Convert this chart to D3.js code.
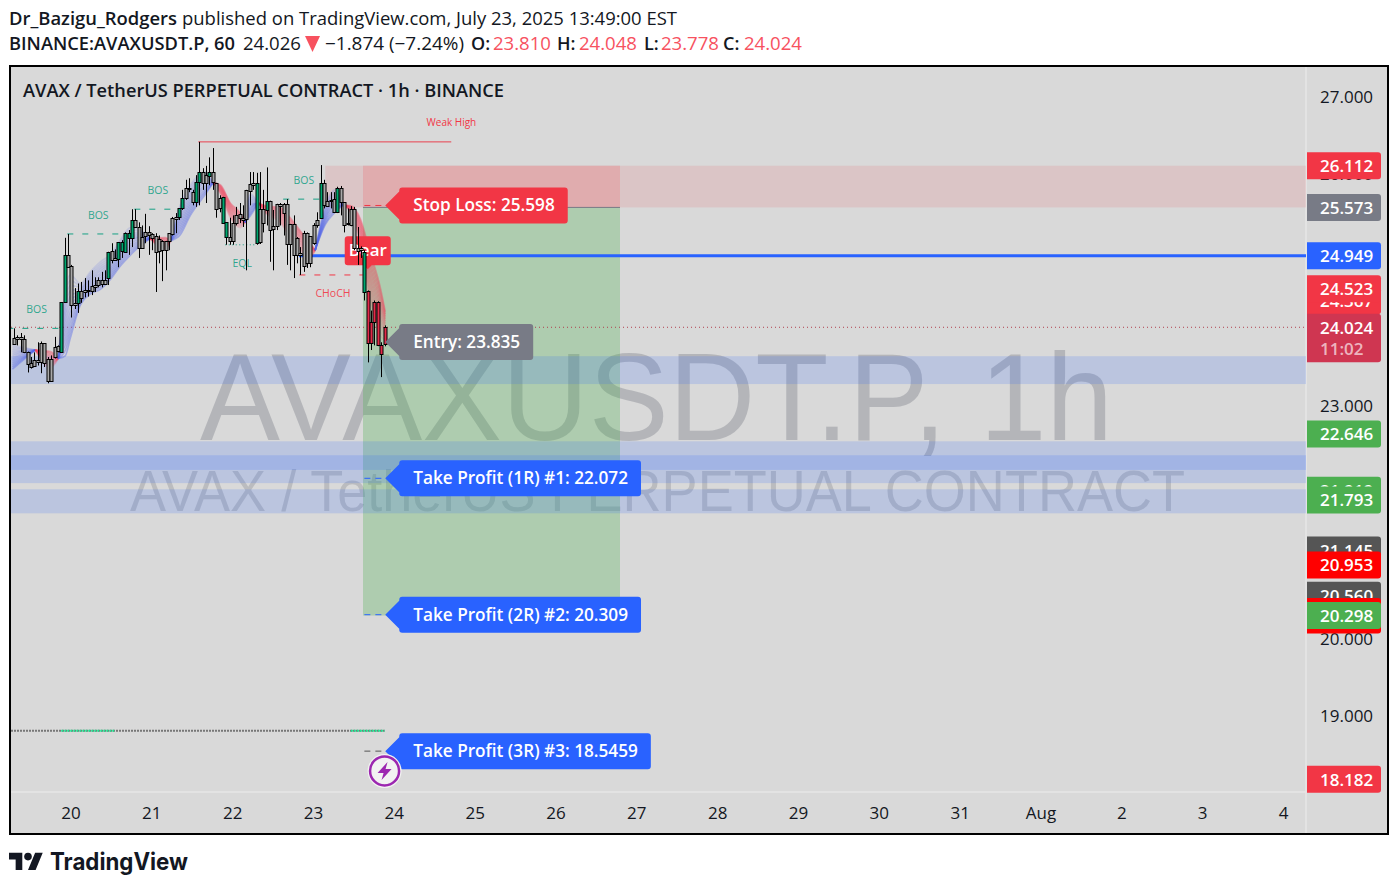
<!DOCTYPE html>
<html>
<head>
<meta charset="utf-8">
<script src="https://cdn.jsdelivr.net/npm/d3@7"></script>
<style>
  html, body { margin: 0; padding: 0; background: #fff; }
  svg { display: block; }
  text { font-family: "Open Sans", sans-serif; }
</style>
</head>
<body>
<div id="chart"></div>
<script>
// hourly candles
const opens = [
  23.88,23.90,23.90,23.87,23.70,23.56,23.60,23.60,23.82,23.82,
  23.62,23.62,23.77,23.78,23.71,24.35,24.96,24.81,24.34,24.34,
  24.49,24.50,24.50,24.56,24.57,24.63,24.63,24.63,24.67,25.01,
  24.92,24.90,25.00,25.00,25.18,25.18,25.41,25.32,25.19,25.25,
  25.25,25.23,25.21,25.16,25.14,25.14,25.24,25.44,25.45,25.44,
  25.56,25.82,25.82,25.77,25.64,25.90,26.03,25.99,25.98,26.03,
  25.89,25.69,25.38,25.19,25.19,25.37,25.47,25.49,25.44,25.80,
  25.87,25.89,25.12,25.55,25.55,25.55,25.66,25.33,25.62,25.62,
  25.62,25.62,25.36,25.36,25.18,24.98,25.24,25.24,25.20,25.34,
  25.41,25.44,25.89,25.66,25.67,25.68,25.51,25.82,25.64,25.37,
  25.55,25.55,25.05,25.05,24.48,24.49,24.09,24.35,24.35,23.80,23.810
];
const highs = [
  24.01,23.92,23.95,23.92,23.71,23.64,23.70,23.83,23.84,23.82,
  23.64,23.66,23.90,23.79,24.35,25.18,25.23,24.83,24.53,24.59,
  24.61,24.66,24.63,24.76,24.67,24.67,24.74,24.76,25.00,25.11,
  25.03,25.12,25.15,25.25,25.28,25.55,25.55,25.38,25.34,25.49,
  25.33,25.24,25.24,25.21,25.15,25.14,25.24,25.45,25.50,25.56,
  25.80,25.93,25.95,25.80,25.99,26.42,26.08,26.11,26.22,26.34,
  25.89,25.73,25.71,25.38,25.44,25.47,25.58,25.63,25.60,25.80,
  26.03,26.03,26.02,26.03,25.80,26.09,25.66,25.54,25.62,25.63,
  25.63,25.68,25.36,25.47,25.19,25.06,25.27,25.25,25.20,25.37,
  25.51,26.12,25.93,25.77,25.77,25.77,25.84,25.85,25.64,25.56,
  25.59,25.58,25.32,25.07,25.02,24.50,24.24,24.37,24.36,23.83,24.048
];
const lows = [
  23.80,23.79,23.70,23.69,23.44,23.49,23.51,23.53,23.43,23.51,
  23.30,23.33,23.62,23.70,23.71,24.35,24.81,24.15,24.26,24.21,
  24.34,24.41,24.42,24.44,24.48,24.54,24.54,24.57,24.57,24.85,
  24.90,24.80,24.92,25.00,24.96,25.06,25.31,24.92,25.05,25.11,
  24.96,25.02,24.48,24.85,24.62,24.76,25.02,25.21,25.24,25.41,
  25.54,25.67,25.77,25.60,25.58,25.60,25.80,25.63,25.86,25.80,
  25.44,25.51,25.36,25.09,25.09,25.09,25.34,25.37,25.32,24.76,
  25.60,25.80,25.09,25.10,25.25,25.34,24.87,24.76,25.28,25.34,
  25.21,24.83,24.76,24.66,24.85,24.70,24.74,24.79,24.80,25.09,
  25.31,25.44,25.56,25.58,25.56,25.50,25.50,25.47,25.25,25.34,
  25.33,25.02,24.83,24.92,24.37,23.57,23.73,23.79,23.78,23.38,23.778
];
const closes = [
  23.80,23.88,23.87,23.70,23.55,23.51,23.52,23.57,23.58,23.56,
  23.33,23.33,23.64,23.71,24.35,24.96,24.81,24.30,24.31,24.49,
  24.40,24.48,24.49,24.49,24.54,24.57,24.58,24.58,25.00,24.90,
  24.90,25.12,25.12,25.24,25.24,25.41,25.32,25.05,25.05,25.20,
  25.21,25.18,25.00,25.01,25.02,25.02,25.14,25.23,25.42,25.56,
  25.69,25.69,25.81,25.64,25.90,26.03,25.89,25.89,26.03,25.90,
  25.56,25.56,25.71,25.38,25.14,25.14,25.37,25.44,25.42,25.42,
  25.78,25.87,25.89,25.12,25.37,25.66,25.29,25.29,25.33,25.59,
  25.50,25.10,25.10,24.96,24.96,24.96,24.81,24.85,24.85,25.11,
  25.34,25.89,25.60,25.60,25.66,25.51,25.82,25.64,25.34,25.36,
  25.34,25.05,25.01,25.02,25.00,23.82,23.82,24.09,23.80,23.68,24.024
];

// moving average ribbon, sampled at the bars where its shape changes
const ribbonBars = [-0.5,3.4,6.3,10.8,13.1,15.2,16.7,19.7,22.6,25.6,28.6,31.5,34.5,37.5,40.4,44.9,46.4,49.3,52.3,56.8,59.1,61.2,64.2,67.1,68.6,70.1,72.5,74.6,79,82,85,87.9,89.4,92.4,95.3,97.7,99.8,102.8,105.7,108.7,110.2];
const ribbonFast = [23.79,23.76,23.73,23.50,23.62,24.50,24.70,24.59,24.74,24.87,24.96,25.15,25.31,25.28,25.17,25.02,25.14,25.60,25.86,26.03,25.89,25.75,25.44,25.31,25.38,25.75,25.63,25.50,25.38,25.18,25.02,24.92,25.02,25.60,25.80,25.60,25.51,25.09,24.37,23.92,23.86];
const ribbonSlow = [23.47,23.62,23.73,23.72,23.62,23.62,23.85,24.30,24.44,24.50,24.63,24.80,24.94,25.07,25.17,25.19,25.14,25.20,25.45,25.73,25.89,25.87,25.64,25.51,25.38,25.45,25.63,25.60,25.58,25.45,25.28,25.12,25.02,25.34,25.50,25.60,25.60,25.44,25.02,24.57,24.24];

// market structure
const structureLabels = ["BOS","BOS","BOS","BOS","EQL","CHoCH"];
const structurePrices = [24.01,25.23,25.55,25.68,25.09,24.70];
const structureFrom = [-2,15.8,35.7,79.9,62.7,84.7];
const structureTo = [14.2,33,48.5,91,71.6,103.5];

const weakHighPrice = 26.42, weakHighFrom = 54.7, weakHighTo = 129.8;

// zones
const zoneTop = [26.112,23.65,22.55,22.37,21.93];
const zoneBottom = [25.573,23.29,22.18,22.01,21.62];
const zoneFrom = [92.4,-1,-1,-1,-1];

const tradeFrom = 103.6, tradeTo = 179.9;
const tradeStop = 26.112, tradeEntry = 25.573, tradeTarget = 20.298;

const levelPrice = 24.949, levelFrom = 84.6;
const lastPrice = 24.024;
const bottomLevel = 18.81;

const calloutLabels = ["Stop Loss: 25.598","Entry: 23.835","Take Profit (1R) #1: 22.072","Take Profit (2R) #2: 20.309","Take Profit (3R) #3: 18.5459"];
const calloutPrices = [25.598,23.835,22.072,20.309,18.5459];
const calloutKinds = ["stop","entry","target","target","target"];

// price axis
const priceTicks = [27,26,25,24,23,22,21,20,19];
const tagPrices = [26.112,25.573,24.949,24.367,24.523,22.646,21.919,21.793,21.145,20.953,20.560,20.35,20.24,20.298,18.182];
const tagLabels = ["26.112","25.573","24.949","24.367","24.523","22.646","21.919","21.793","21.145","20.953","20.560","","","20.298","18.182"];
const tagKinds = ["stop","entry","target","stop","stop","green","green","green","dark","pure","dark","pure","pure","green","stop"];

// time axis
const dayTicks = ["2025-07-20","2025-07-21","2025-07-22","2025-07-23","2025-07-24","2025-07-25","2025-07-26","2025-07-27","2025-07-28","2025-07-29","2025-07-30","2025-07-31","2025-08-01","2025-08-02","2025-08-03","2025-08-04"];
const dayLabels = ["20","21","22","23","24","25","26","27","28","29","30","31","Aug","2","3","4"];

const W = 1398, H = 889;
const plot = { left: 11, right: 1306, top: 67, bottom: 792, outerRight: 1388, outerBottom: 834 };
const colors = { stop: "#f23645", entry: "#787b86", target: "#2962ff", green: "#4caf50", dark: "#555555", pure: "#ff0000" };
const teal = "#16a085", red = "#f23645";

const svg = d3.select("#chart").append("svg").attr("width", W).attr("height", H);

const x = d3.scaleUtc()
  .domain([new Date("2025-07-20"), new Date("2025-08-04")])
  .range([70.5, 1283]);
const y = d3.scaleLinear().domain([27, 19]).range([97, 716]);

const firstBar = Date.UTC(2025, 6, 19, 7, 15);
const barX = i => x(new Date(firstBar + i * 3600e3));

svg.append("defs").append("clipPath").attr("id", "plotClip")
  .append("rect")
  .attr("x", plot.left).attr("y", plot.top)
  .attr("width", plot.right - plot.left).attr("height", plot.bottom - plot.top);

// header
const head = svg.append("g").attr("fill", "#131722").attr("font-size", 18);
head.append("text").attr("x", 9).attr("y", 25).attr("font-weight", 600).attr("textLength", 168).attr("lengthAdjust", "spacingAndGlyphs").text("Dr_Bazigu_Rodgers");
head.append("text").attr("x", 182).attr("y", 25).attr("textLength", 495).attr("lengthAdjust", "spacingAndGlyphs").text("published on TradingView.com, July 23, 2025 13:49:00 EST");
head.append("text").attr("x", 9).attr("y", 50).attr("font-weight", 600).attr("textLength", 226).attr("lengthAdjust", "spacingAndGlyphs").text("BINANCE:AVAXUSDT.P, 60");
head.append("text").attr("x", 243).attr("y", 50).attr("textLength", 58).attr("lengthAdjust", "spacingAndGlyphs").text("24.026");
head.append("text").attr("x", 325).attr("y", 50).attr("textLength", 139).attr("lengthAdjust", "spacingAndGlyphs").text("−1.874 (−7.24%)");
head.append("path").attr("d", "M305,36H320L312.5,52Z").attr("fill", "#f7525f");
const ohlcNames = ["O:","H:","L:","C:"];
const ohlcValues = ["23.810","24.048","23.778","24.024"];
const ohlcNameX = [471,557,644,723], ohlcValueX = [493,579,661,744];
ohlcNames.forEach((n, i) => {
  head.append("text").attr("x", ohlcNameX[i]).attr("y", 50).attr("font-weight", 600).text(n);
  head.append("text").attr("x", ohlcValueX[i]).attr("y", 50).attr("fill", "#f7525f").attr("textLength", 58).attr("lengthAdjust", "spacingAndGlyphs").text(ohlcValues[i]);
});

// panel
svg.append("rect").attr("x", 10).attr("y", 66).attr("width", 1378).attr("height", 768)
  .attr("fill", "#d9d9d9").attr("stroke", "#000").attr("stroke-width", 2);
svg.append("line").attr("x1", plot.right).attr("x2", plot.right).attr("y1", 67).attr("y2", plot.outerBottom - 1).attr("stroke", "#e6e6e6").attr("stroke-width", 1.5);
svg.append("line").attr("x1", 11).attr("x2", plot.right).attr("y1", plot.bottom).attr("y2", plot.bottom).attr("stroke", "#e6e6e6").attr("stroke-width", 1.5);

// watermark
svg.append("text").attr("x", 200).attr("y", 440).attr("font-size", 125)
  .attr("textLength", 913).attr("lengthAdjust", "spacingAndGlyphs")
  .attr("fill", "rgba(120,123,134,0.38)").style("font-family", "Liberation Sans").text("AVAXUSDT.P, 1h");
svg.append("text").attr("x", 130).attr("y", 511).attr("font-size", 57)
  .attr("textLength", 1055).attr("lengthAdjust", "spacingAndGlyphs")
  .attr("fill", "rgba(120,123,134,0.3)").style("font-family", "Liberation Sans").text("AVAX / TetherUS PERPETUAL CONTRACT");

svg.append("text").attr("x", 23).attr("y", 97).attr("font-size", 18).attr("font-weight", 600).attr("fill", "#131722")
  .attr("textLength", 481).attr("lengthAdjust", "spacingAndGlyphs")
  .text("AVAX / TetherUS PERPETUAL CONTRACT · 1h · BINANCE");

const chart = svg.append("g").attr("clip-path", "url(#plotClip)");

// trade boxes and zones
chart.append("rect").attr("x", barX(tradeFrom)).attr("width", barX(tradeTo) - barX(tradeFrom))
  .attr("y", y(tradeEntry)).attr("height", y(tradeTarget) - y(tradeEntry)).attr("fill", "rgba(76,175,80,0.3)");
chart.append("rect").attr("x", barX(tradeFrom)).attr("width", barX(tradeTo) - barX(tradeFrom))
  .attr("y", y(tradeStop)).attr("height", y(tradeEntry) - y(tradeStop)).attr("fill", "rgba(242,54,69,0.18)");
chart.selectAll(".zone").data(zoneTop).join("rect").attr("class", "zone")
  .attr("x", (d, i) => barX(zoneFrom[i]))
  .attr("width", (d, i) => plot.right - barX(zoneFrom[i]))
  .attr("y", d => y(d))
  .attr("height", (d, i) => y(zoneBottom[i]) - y(d))
  .attr("fill", (d, i) => i === 0 ? "rgba(242,54,69,0.12)" : "rgba(41,98,255,0.17)");

chart.append("line").attr("x1", barX(tradeFrom)).attr("x2", barX(tradeTo)).attr("y1", y(tradeEntry)).attr("y2", y(tradeEntry)).attr("stroke", "#787b86").attr("stroke-width", 1);
chart.append("line").attr("x1", barX(levelFrom)).attr("x2", plot.right).attr("y1", y(levelPrice)).attr("y2", y(levelPrice)).attr("stroke", "#2962ff").attr("stroke-width", 3);
chart.append("line").attr("x1", plot.left).attr("x2", plot.right).attr("y1", y(lastPrice)).attr("y2", y(lastPrice))
  .attr("stroke", "#b0404f").attr("stroke-dasharray", "1,3");

// ribbon, one piece per stretch between crossings
const crossings = ribbonBars.map((b, i) => i).filter(i => ribbonFast[i] === ribbonSlow[i]);
const cuts = [0, ...crossings, ribbonBars.length - 1];
const strands = d3.range(0, 1.001, 0.08);
const ribbon = chart.append("g");
d3.pairs(cuts).forEach(([a, b]) => {
  const idx = d3.range(a, b + 1);
  const mid = idx[Math.floor(idx.length / 2)];
  const bull = ribbonFast[mid] > ribbonSlow[mid];
  const col = bull ? "#4f63e8" : "#f0405a";
  strands.forEach(t => {
    const line = d3.line()
      .x(i => barX(ribbonBars[i]))
      .y(i => y(ribbonFast[i] + (ribbonSlow[i] - ribbonFast[i]) * t))
      .curve(d3.curveMonotoneX);
    ribbon.append("path").datum(idx).attr("d", line).attr("fill", "none")
      .attr("stroke", col).attr("stroke-width", 1.6).attr("stroke-opacity", 0.16 + 0.26 * t);
  });
});

// market structure lines
structureLabels.forEach((label, i) => {
  const isChoch = label === "CHoCH";
  const col = isChoch ? red : teal;
  const x1 = barX(structureFrom[i]), x2 = barX(structureTo[i]), py = y(structurePrices[i]);
  chart.append("line").attr("x1", x1).attr("x2", x2).attr("y1", py).attr("y2", py)
    .attr("stroke", col).attr("stroke-width", 1)
    .attr("stroke-dasharray", label === "EQL" ? "1,2.5" : "6,9");
  chart.append("text").attr("x", (x1 + x2) / 2 + 2).attr("y", py + (label === "BOS" ? -15 : 22))
    .attr("text-anchor", "middle").attr("font-size", 10.5).attr("fill", col).attr("fill-opacity", 0.9).text(label);
});

chart.append("line").attr("x1", barX(weakHighFrom)).attr("x2", barX(weakHighTo)).attr("y1", y(weakHighPrice)).attr("y2", y(weakHighPrice))
  .attr("stroke", "#e8404f").attr("stroke-width", 1);
chart.append("text").attr("x", barX(weakHighTo) + 25).attr("y", y(weakHighPrice) - 16).attr("text-anchor", "end")
  .attr("font-size", 10).attr("fill", red).text("Weak High");

// bottom dotted level
chart.append("line").attr("x1", plot.left).attr("x2", barX(110)).attr("y1", y(bottomLevel)).attr("y2", y(bottomLevel))
  .attr("stroke", "#777").attr("stroke-width", 2).attr("stroke-dasharray", "2,1");
chart.append("line").attr("x1", barX(14)).attr("x2", barX(30)).attr("y1", y(bottomLevel)).attr("y2", y(bottomLevel))
  .attr("stroke", "#20e090").attr("stroke-width", 2).attr("stroke-dasharray", "2,1");
chart.append("line").attr("x1", barX(100)).attr("x2", barX(110)).attr("y1", y(bottomLevel)).attr("y2", y(bottomLevel))
  .attr("stroke", "#20e090").attr("stroke-width", 2).attr("stroke-dasharray", "2,1");

// target dashes next to the callouts
calloutPrices.forEach((p, i) => {
  chart.append("line").attr("x1", barX(104)).attr("x2", barX(110.5)).attr("y1", y(p)).attr("y2", y(p))
    .attr("stroke", calloutKinds[i] === "entry" ? "none" : i === 0 ? red : i === 4 ? "#555" : "#2962ff")
    .attr("stroke-width", 1).attr("stroke-dasharray", "6,5");
});

// bear signal
const bearBar = 105, bearPrice = 24.98;
const bear = chart.append("g");
const bx = barX(bearBar), by = y(bearPrice);
bear.append("path").attr("fill", red).attr("d", `M${bx - 23},${by - 14}a3,3 0 0 1 3,-3h40a3,3 0 0 1 3,3v23a3,3 0 0 1 -3,3h-16l-4,4l-4,-4h-16a3,3 0 0 1 -3,-3z`);
bear.append("text").attr("x", bx).attr("y", by + 3).attr("text-anchor", "middle").attr("font-size", 17).attr("font-weight", 600).attr("fill", "#fff").text("Bear");

// candles
const candles = chart.append("g");
const redFrom = 105;
opens.forEach((o, i) => {
  const cx = Math.round(barX(i));
  const c = closes[i];
  const top = y(Math.max(o, c)), bot = y(Math.min(o, c));
  candles.append("line").attr("x1", cx + 0.5).attr("x2", cx + 0.5).attr("y1", y(highs[i])).attr("y2", y(lows[i])).attr("stroke", "#000").attr("stroke-width", 1);
  candles.append("rect").attr("x", cx - 1).attr("width", 3)
    .attr("y", Math.round(top) + 0.5).attr("height", Math.max(1, Math.round(bot - top)))
    .attr("fill", i >= redFrom ? "#e32c4a" : c > o ? "#00a870" : "#a9a9a9")
    .attr("stroke", "#000").attr("stroke-width", 1);
});

// callouts
const calloutTip = barX(110.2);
const callouts = svg.append("g");
calloutLabels.forEach((label, i) => {
  const cy = y(calloutPrices[i]);
  const g = callouts.append("g");
  const path = g.append("path").attr("fill", colors[calloutKinds[i]]);
  const x0 = calloutTip + 14;
  const txt = g.append("text").attr("x", x0 + 14).attr("y", cy + 6).attr("font-size", 17.2).attr("font-weight", 600).attr("fill", "#fff").text(label);
  const w = txt.node().getComputedTextLength() + 27;
  path.attr("d", `M${calloutTip},${cy}L${x0},${cy - 14}V${cy - 15}a3,3 0 0 1 3,-3H${x0 + w - 3}a3,3 0 0 1 3,3V${cy + 15}a3,3 0 0 1 -3,3H${x0 + 3}a3,3 0 0 1 -3,-3V${cy + 14}Z`);
});

// bolt icon
const iconX = barX(110), iconY = y(18.29);
const icon = svg.append("g").attr("transform", `translate(${iconX},${iconY})`);
icon.append("circle").attr("r", 17).attr("fill", "#f2f2f2");
icon.append("circle").attr("r", 14.5).attr("fill", "#f2f2f2").attr("stroke", "#9c27b0").attr("stroke-width", 2.5);
icon.append("path").attr("fill", "#9c27b0").attr("d", "M3,-9L-7,2H-1L-3,9L7,-2H1Z");

// price axis
const yAxis = d3.axisRight(y).tickValues(priceTicks).tickFormat(d3.format(".3f")).tickSize(0);
const yAxisG = svg.append("g").attr("transform", `translate(${plot.right + 14},0)`).call(yAxis);
yAxisG.select(".domain").remove();
yAxisG.selectAll("text").attr("x", 0).attr("font-size", 17).attr("fill", "#131722").style("font-family", '"Open Sans"');

// time axis
const xAxis = d3.axisBottom(x).tickValues(dayTicks.map(d => new Date(d))).tickFormat((d, i) => dayLabels[i]).tickSize(0);
const xAxisG = svg.append("g").attr("transform", `translate(0,${plot.bottom + 12})`).call(xAxis);
xAxisG.select(".domain").remove();
xAxisG.selectAll("text").attr("font-size", 17).attr("fill", "#131722").style("font-family", '"Open Sans"');

// price tags
const tags = svg.append("g");
tagPrices.forEach((p, i) => {
  const cy = y(p);
  tags.append("path").attr("fill", colors[tagKinds[i]])
    .attr("d", `M${plot.right + 1},${cy - 13.5}H1378a3,3 0 0 1 3,3V${cy + 10.5}a3,3 0 0 1 -3,3H${plot.right + 1}Z`);
  tags.append("text").attr("x", plot.right + 14).attr("y", cy + 6.5).attr("font-size", 17).attr("font-weight", 600).attr("fill", "#fff").text(tagLabels[i]);
});

// current price tag with countdown
const lastY = y(lastPrice);
tags.append("path").attr("fill", "#cf3651")
  .attr("d", `M${plot.right + 1},${lastY - 13.5}H1378a3,3 0 0 1 3,3V${lastY + 32}a3,3 0 0 1 -3,3H${plot.right + 1}Z`);
tags.append("text").attr("x", plot.right + 14).attr("y", lastY + 6.5).attr("font-size", 17).attr("font-weight", 600).attr("fill", "#fff").text("24.024");
tags.append("text").attr("x", plot.right + 14).attr("y", lastY + 28).attr("font-size", 17).attr("font-weight", 600).attr("fill", "rgba(255,255,255,0.65)").text("11:02");

// logo
const logo = svg.append("g").attr("transform", "translate(9,849) scale(0.95)").attr("fill", "#131722");
logo.append("path").attr("d", "M14 22H7V11H0V4h14v18zM28 22h-8l7.5-18h8L28 22z");
logo.append("circle").attr("cx", 20).attr("cy", 8).attr("r", 4);
svg.append("text").attr("x", 50).attr("y", 870).attr("font-size", 24).attr("font-weight", 700).attr("fill", "#131722")
  .style("font-family", "Inter")
  .attr("textLength", 138).attr("lengthAdjust", "spacingAndGlyphs").text("TradingView");
</script>
</body>
</html>
